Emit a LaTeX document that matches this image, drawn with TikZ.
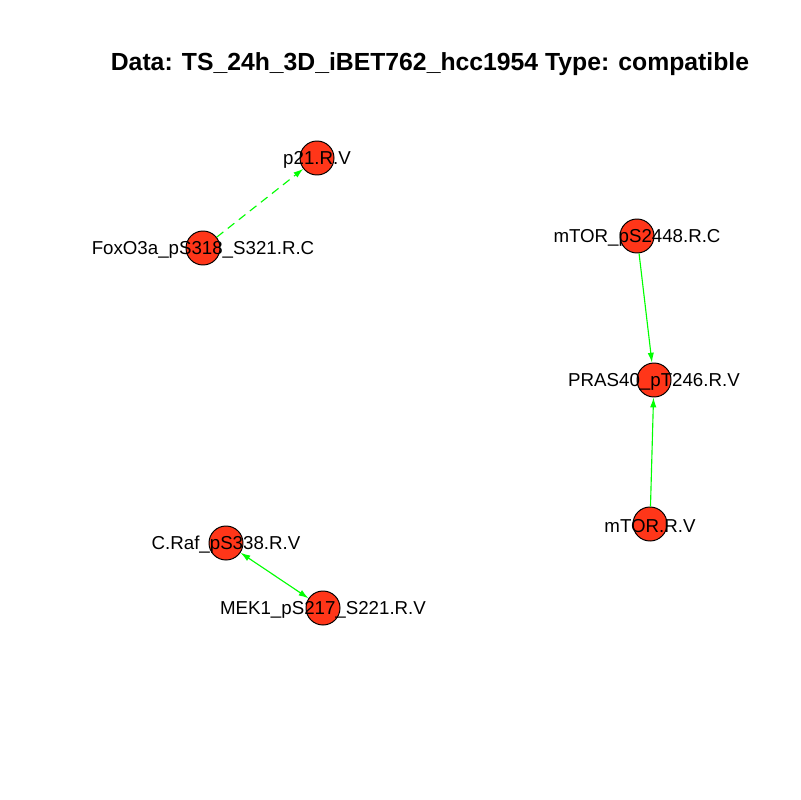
\documentclass[tikz,border=0pt]{standalone}
\usepackage{fontspec}
\setmainfont{Liberation Sans}
\usetikzlibrary{arrows.meta}

\tikzset{
  protein/.style={draw, circle, fill=red!75!orange!90, minimum size=34*0.025cm, inner sep=0pt, line width=0.7pt},
  plabel/.style={font=\fontsize{13.3}{15}\selectfont, inner sep=0pt, yshift=-1.5pt},
  link/.style={draw=green, line width=0.8pt, -{Latex[length=7pt,width=4.5pt]}},
}

\begin{document}
\begin{tikzpicture}[x=0.025cm, y=-0.025cm]

    \useasboundingbox (0,0) rectangle (800,800);

    % Nodes
    \node [protein] at (317,158) (p21) {};
    \node [protein] at (203,248) (foxo) {};
    \node [protein] at (637,236) (mtorp) {};
    \node [protein] at (654,380) (pras) {};
    \node [protein] at (650,524) (mtor) {};
    \node [protein] at (226,543) (craf) {};
    \node [protein] at (323,608) (mek) {};

    % Arrows
    \draw [link, dashed, dash pattern=on 6pt off 4pt] (foxo) -- (p21);
    \draw [link] (mtorp) -- (pras);
    \draw [link] (mtor) -- (pras);
    \draw [link, {Latex[length=7pt,width=4.5pt]}-{Latex[length=7pt,width=4.5pt]}] (craf) -- (mek);

    % Labels
    \node [plabel] at (p21) {p21.R.V};
    \node [plabel] at (foxo) {FoxO3a\_pS318\_S321.R.C};
    \node [plabel] at (mtorp) {mTOR\_pS2448.R.C};
    \node [plabel] at (pras) {PRAS40\_pT246.R.V};
    \node [plabel] at (mtor) {mTOR.R.V};
    \node [plabel] at (craf) {C.Raf\_pS338.R.V};
    \node [plabel] at (mek) {MEK1\_pS217\_S221.R.V};

    \node [font=\bfseries\fontsize{17.6}{20}\selectfont] at (430,64) (title) {Data: TS\_24h\_3D\_iBET762\_hcc1954 Type: compatible};

\end{tikzpicture}
\end{document}
